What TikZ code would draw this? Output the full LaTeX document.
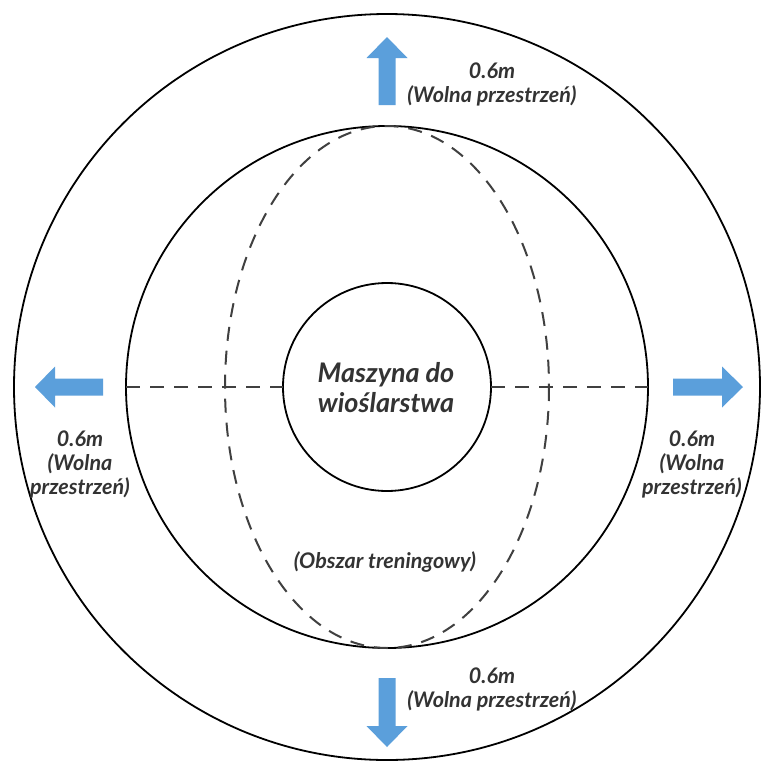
\documentclass[tikz,border=0pt]{standalone}
\usepackage{fontspec}
\setmainfont{Lato}
\begin{document}
\begin{tikzpicture}[x=1pt,y=-1pt,
  ring/.style={circle, draw=black, line width=1.8pt, inner sep=0pt, outer sep=0pt},
  guide/.style={draw=black!75, line width=2pt, dash pattern=on 14pt off 10pt},
  flow/.style={fill=arrowblue, draw=none},
  lbl/.style={text=black!80, font=\fontsize{21.5}{24}\selectfont\bfseries\itshape, align=center, inner sep=0pt},
  title/.style={text=black!80, font=\fontsize{27}{30}\selectfont\bfseries\itshape, align=center, inner sep=0pt}]
\definecolor{arrowblue}{HTML}{5B9FDB}
\useasboundingbox[fill=white] (0,0) rectangle (761,764);

% circles
\node[ring, minimum size=746pt] (outer) at (387,387) {};
\node[ring, minimum size=522pt] (inner) at (387,387) {};
\node[ring, minimum size=208pt] (machine) at (387,387) {};

% training area: dashed ellipse and horizontal guides
\draw[guide] (387,387) ellipse [x radius=162, y radius=261];
\draw[guide] (inner.west) -- (machine.west);
\draw[guide] (machine.east) -- (inner.east);

% blue direction arrows
\fill[flow] (378.5,105) -- (378.5,58) -- (366.5,58) -- (387,37) -- (407.5,58) -- (395.5,58) -- (395.5,105) -- cycle;
\fill[flow] (378.5,678) -- (378.5,726) -- (366.5,726) -- (387,747) -- (407.5,726) -- (395.5,726) -- (395.5,678) -- cycle;
\fill[flow] (103,378.5) -- (55,378.5) -- (55,366.5) -- (35,387) -- (55,407.5) -- (55,395.5) -- (103,395.5) -- cycle;
\fill[flow] (673,378.5) -- (722,378.5) -- (722,366.5) -- (743,387) -- (722,407.5) -- (722,395.5) -- (673,395.5) -- cycle;

% labels
\node[title] (name) at (386,388) {Maszyna do\\wioślarstwa};
\node[lbl] (area) at (385,562) {(Obszar treningowy)};
\node[lbl] (top) at (492,84) {0.6m\\(Wolna przestrzeń)};
\node[lbl] (bottom) at (492,689) {0.6m\\(Wolna przestrzeń)};
\node[lbl] (left) at (80,464) {0.6m\\(Wolna\\przestrzeń)};
\node[lbl] (right) at (692,464) {0.6m\\(Wolna\\przestrzeń)};
\end{tikzpicture}
\end{document}
